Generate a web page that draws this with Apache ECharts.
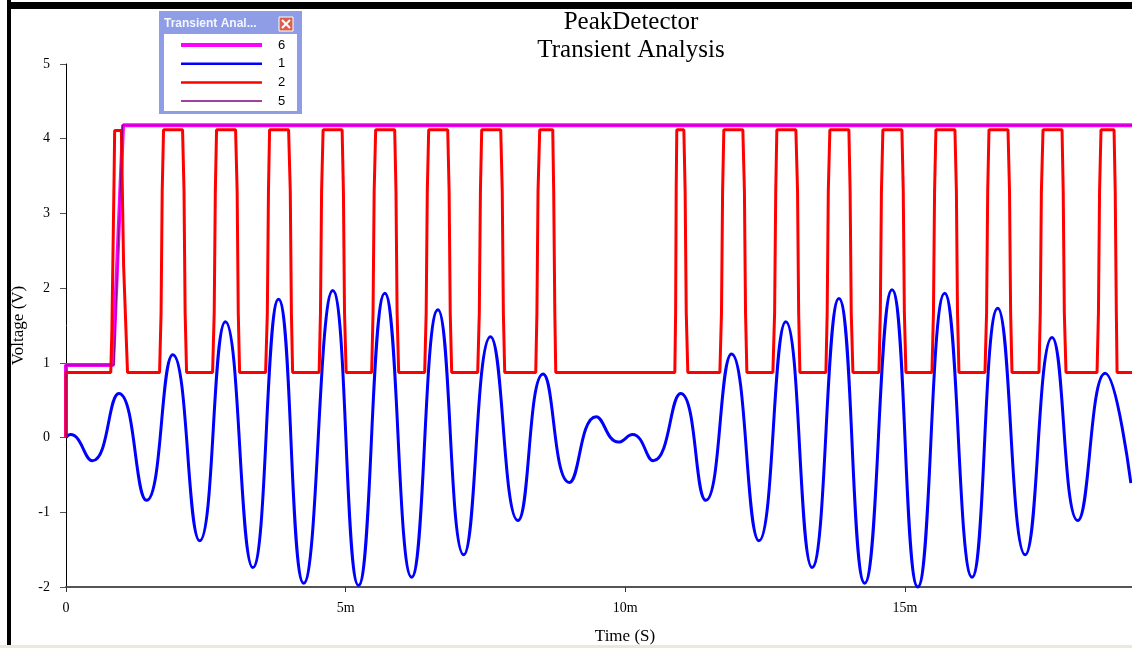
<!DOCTYPE html>
<html>
<head>
<meta charset="utf-8">
<script src="https://cdn.jsdelivr.net/npm/echarts@6/dist/echarts.min.js"></script>
<style>
  html, body { margin: 0; padding: 0; background: #fff; }
  #chart { width: 1132px; height: 648px; }
</style>
</head>
<body>
<div id="chart"></div>
<script>
// time in ms, voltage in V
var legendNames = ['6', '1', '2', '5'];
var legendWidths = [4, 2.5, 2.5, 1.5];

// net 1: input signal (blue)
var wave1 = [
  [0, 0], [0.08, 0.04], [0.47, -0.31], [0.945, 0.59], [1.44, -0.84], [1.91, 1.11],
  [2.39, -1.38], [2.85, 1.55], [3.34, -1.74], [3.80, 1.85], [4.25, -1.95], [4.77, 1.97],
  [5.23, -1.98], [5.70, 1.93], [6.18, -1.87], [6.65, 1.71], [7.11, -1.57], [7.59, 1.35],
  [8.08, -1.11], [8.53, 0.85], [9.00, -0.60], [9.48, 0.28], [9.88, -0.06], [10.13, 0.04],
  [10.50, -0.31], [10.99, 0.59], [11.44, -0.84], [11.90, 1.12], [12.39, -1.38], [12.87, 1.55],
  [13.34, -1.74], [13.82, 1.86], [14.28, -1.95], [14.77, 1.98], [15.23, -2.0], [15.71, 1.93],
  [16.20, -1.87], [16.66, 1.73], [17.15, -1.57], [17.63, 1.34], [18.09, -1.11], [18.58, 0.86],
  [19.04, -0.61]
];

// net 2: comparator output (red)
var wave2 = [
  [0, 0], [0, 0.87], [0.80, 0.87], [0.82, 1.42], [0.84, 2.46], [0.86, 3.5], [0.87, 4.11], [0.99, 4.11], [1.03, 2.3], [1.10, 0.87],
  [1.673, 0.87], [1.70, 1.67], [1.72, 3.3], [1.744, 4.12], [2.084, 4.12], [2.11, 3.3], [2.13, 1.67], [2.156, 0.87],
  [2.621, 0.87], [2.65, 1.67], [2.67, 3.3], [2.692, 4.12], [3.032, 4.12], [3.06, 3.3], [3.08, 1.67], [3.104, 0.87],
  [3.569, 0.87], [3.60, 1.67], [3.62, 3.3], [3.640, 4.12], [3.980, 4.12], [4.01, 3.3], [4.03, 1.67], [4.052, 0.87],
  [4.526, 0.87], [4.55, 1.67], [4.57, 3.3], [4.597, 4.12], [4.937, 4.12], [4.96, 3.3], [4.98, 1.67], [5.009, 0.87],
  [5.465, 0.87], [5.49, 1.67], [5.51, 3.3], [5.537, 4.12], [5.877, 4.12], [5.90, 3.3], [5.92, 1.67], [5.948, 0.87],
  [6.413, 0.87], [6.44, 1.67], [6.46, 3.3], [6.485, 4.12], [6.825, 4.12], [6.85, 3.3], [6.87, 1.67], [6.896, 0.87],
  [7.361, 0.87], [7.39, 1.67], [7.41, 3.3], [7.433, 4.12], [7.773, 4.12], [7.80, 3.3], [7.82, 1.67], [7.844, 0.87],
  [8.399, 0.87], [8.42, 1.67], [8.44, 3.3], [8.470, 4.12], [8.703, 4.12], [8.72, 3.3], [8.74, 1.67], [8.757, 0.87],
  [10.886, 0.87], [10.90, 1.67], [10.91, 3.3], [10.921, 4.12], [11.047, 4.12], [11.07, 3.3], [11.09, 1.67], [11.118, 0.87],
  [11.691, 0.87], [11.72, 1.67], [11.74, 3.3], [11.762, 4.12], [12.102, 4.12], [12.13, 3.3], [12.15, 1.67], [12.174, 0.87],
  [12.639, 0.87], [12.67, 1.67], [12.69, 3.3], [12.710, 4.12], [13.050, 4.12], [13.08, 3.3], [13.10, 1.67], [13.122, 0.87],
  [13.587, 0.87], [13.61, 1.67], [13.63, 3.3], [13.658, 4.12], [13.998, 4.12], [14.02, 3.3], [14.04, 1.67], [14.070, 0.87],
  [14.535, 0.87], [14.56, 1.67], [14.58, 3.3], [14.606, 4.12], [14.946, 4.12], [14.97, 3.3], [14.99, 1.67], [15.018, 0.87],
  [15.483, 0.87], [15.51, 1.67], [15.53, 3.3], [15.554, 4.12], [15.894, 4.12], [15.92, 3.3], [15.94, 1.67], [15.966, 0.87],
  [16.431, 0.87], [16.46, 1.67], [16.48, 3.3], [16.503, 4.12], [16.843, 4.12], [16.87, 3.3], [16.89, 1.67], [16.914, 0.87],
  [17.397, 0.87], [17.42, 1.67], [17.44, 3.3], [17.469, 4.12], [17.809, 4.12], [17.83, 3.3], [17.85, 1.67], [17.880, 0.87],
  [18.435, 0.87], [18.46, 1.67], [18.48, 3.3], [18.506, 4.12], [18.739, 4.12], [18.76, 3.3], [18.78, 1.67], [18.793, 0.87],
  [19.06, 0.87]
];

// net 6: peak hold (magenta), net 5 rides on top of it
var wave6 = [[0, 0], [0, 0.97], [0.84, 0.97], [1.02, 4.18], [19.06, 4.18]];
var wave5 = [[0, 0], [0, 0.97], [0.86, 0.97], [1.01, 4.18], [19.06, 4.18]];

var serif = 'Liberation Serif';
var chart = echarts.init(document.getElementById('chart'));

var option = {
  backgroundColor: '#fff',
  animation: false,
  title: {
    text: 'PeakDetector\nTransient Analysis',
    left: 626,
    top: 3,
    textAlign: 'center',
    textStyle: { fontFamily: serif, fontSize: 25, fontWeight: 'normal', color: '#000', lineHeight: 28 }
  },
  legend: {
    data: legendNames.map(function (n, i) {
      return { name: n, lineStyle: { width: legendWidths[i] } };
    }),
    orient: 'vertical',
    left: 174,
    top: 33,
    itemWidth: 81,
    itemHeight: 14,
    itemGap: 4.7,
    selectedMode: false,
    z: 10,
    itemStyle: { opacity: 0 },
    textStyle: { fontFamily: 'Liberation Sans', fontSize: 13, color: '#000', padding: [0, 0, 0, 11], lineHeight: 14 }
  },
  grid: { left: 66, right: 0, top: 64, bottom: 61, outerBoundsMode: 'none' },
  xAxis: {
    type: 'value',
    min: 0,
    max: 19.06,
    interval: 5,
    name: 'Time (S)',
    nameLocation: 'middle',
    nameGap: 41,
    nameTextStyle: { fontFamily: serif, fontSize: 17, color: '#000', padding: [0, 0, 0, 52] },
    axisLine: { onZero: false, lineStyle: { color: '#555', width: 2 } },
    axisTick: { length: 5, lineStyle: { color: '#333' } },
    axisLabel: {
      margin: 14,
      fontFamily: serif,
      fontSize: 14,
      color: '#000',
      showMaxLabel: false,
      formatter: function (v) { return v === 0 ? '0' : v + 'm'; }
    },
    splitLine: { show: false }
  },
  yAxis: {
    type: 'value',
    min: -2,
    max: 5,
    interval: 1,
    name: 'Voltage (V)',
    nameLocation: 'middle',
    nameGap: 36,
    nameTextStyle: { fontFamily: serif, fontSize: 17, color: '#000' },
    axisLine: { show: true, onZero: false, lineStyle: { color: '#000', width: 1 } },
    axisTick: { show: true, length: 6, lineStyle: { color: '#555' } },
    axisLabel: { margin: 16, fontFamily: serif, fontSize: 14, color: '#000' },
    splitLine: { show: false }
  },
  graphic: [
    { type: 'rect', shape: { x: 7, y: 0, width: 4, height: 645 }, style: { fill: '#000' }, silent: true },
    { type: 'rect', shape: { x: 7, y: 2, width: 1125, height: 7 }, style: { fill: '#000' }, silent: true },
    { type: 'rect', shape: { x: 0, y: 645, width: 1132, height: 3 }, style: { fill: '#ECE9D8' }, silent: true },
    // floating legend window
    { type: 'rect', z: 5, shape: { x: 159, y: 11, width: 143, height: 103 }, style: { fill: '#8E9DE6' }, silent: true },
    { type: 'rect', z: 5, shape: { x: 164, y: 34, width: 133, height: 77 }, style: { fill: '#fff' }, silent: true },
    { type: 'rect', z: 6, shape: { x: 279, y: 17, width: 14, height: 14 }, style: { fill: '#D9604C', stroke: '#fff', lineWidth: 1 }, silent: true },
    { type: 'line', z: 7, shape: { x1: 282, y1: 20, x2: 290, y2: 28 }, style: { stroke: '#fff', lineWidth: 2 }, silent: true },
    { type: 'line', z: 7, shape: { x1: 290, y1: 20, x2: 282, y2: 28 }, style: { stroke: '#fff', lineWidth: 2 }, silent: true },
    {
      type: 'text', z: 6, x: 164, y: 24, silent: true,
      style: { text: 'Transient Anal...', fill: '#F4F6FF', font: 'bold 12px "Liberation Sans"', verticalAlign: 'middle' }
    }
  ],
  series: [
    { name: '6', type: 'line', data: wave6, symbol: 'none', lineStyle: { color: '#FF00FF', width: 4 }, itemStyle: { color: '#FF00FF' } },
    { name: '1', type: 'line', data: wave1, symbol: 'none', smooth: 0.5, clip: false, lineStyle: { color: '#0000FF', width: 3 }, itemStyle: { color: '#0000FF' } },
    { name: '2', type: 'line', data: wave2, symbol: 'none', lineStyle: { color: '#FF0000', width: 3 }, itemStyle: { color: '#FF0000' } },
    { name: '5', type: 'line', data: wave5, symbol: 'none', lineStyle: { color: '#800080', width: 1 }, itemStyle: { color: '#800080' } }
  ]
};

chart.setOption(option);
</script>
</body>
</html>
